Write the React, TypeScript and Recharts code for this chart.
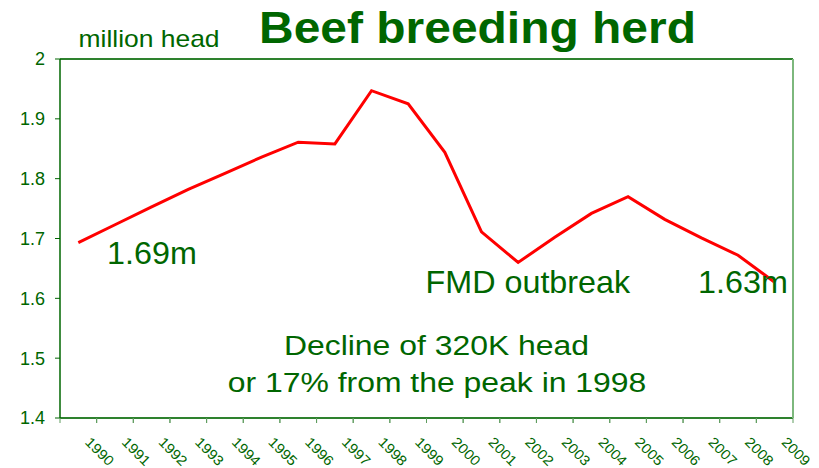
import React from 'react';
import { LineChart, Line, XAxis, YAxis, CartesianGrid, ReferenceLine } from 'recharts';

const years = ['1990','1991','1992','1993','1994','1995','1996','1997','1998','1999','2000','2001','2002','2003','2004','2005','2006','2007','2008','2009'];
const herd = [1.693, 1.723, 1.753, 1.782, 1.809, 1.836, 1.861, 1.858, 1.947, 1.925, 1.844, 1.711, 1.66, 1.702, 1.742, 1.77, 1.732, 1.701, 1.672, 1.627];
const yTicks = [1.4, 1.5, 1.6, 1.7, 1.8, 1.9, 2];

const title = 'Beef breeding herd';
const unitLabel = 'million head';
const startLabel = '1.69m';
const endLabel = '1.63m';
const eventLabel = 'FMD outbreak';
const noteLine1 = 'Decline of 320K head';
const noteLine2 = 'or 17% from the peak in 1998';

const data = years.map((y, i) => ({ year: y, herd: herd[i] }));

const W = 819;
const H = 468;
const LEFT = 60;
const RIGHT_W = 26;
const TOP = 59;
const XAXIS_H = 50;
const PLOT_BOTTOM = H - XAXIS_H;
const BW = (W - LEFT - RIGHT_W) / years.length;

const GREEN = '#006600';
const FONT = '"Liberation Sans", Arial, sans-serif';

const XTick = (props: any) => {
  const { x, payload } = props;
  const cx = payload && payload.coordinate !== undefined ? payload.coordinate : x;
  return (
    <g>
      <line x1={cx - BW / 2} x2={cx - BW / 2} y1={PLOT_BOTTOM} y2={PLOT_BOTTOM + 5} stroke="#5f9c5f" strokeWidth={1} />
      <line x1={cx + BW / 2} x2={cx + BW / 2} y1={PLOT_BOTTOM} y2={PLOT_BOTTOM + 5} stroke="#5f9c5f" strokeWidth={1} />
      <text
        x={0}
        y={0}
        transform={`translate(${cx + 6},${PLOT_BOTTOM + 25}) rotate(45) scale(1.08,1)`}
        textAnchor="start"
        fill={GREEN}
        fontSize={14}
        fontFamily={FONT}
      >
        {payload.value}
      </text>
    </g>
  );
};

const SText = ({ x, y, sx, size, anchor = 'start', bold = false, children }: any) => (
  <text
    x={0}
    y={0}
    transform={`translate(${x},${y}) scale(${sx},1)`}
    textAnchor={anchor}
    fontSize={size}
    fontWeight={bold ? 'bold' : 'normal'}
    fontFamily={FONT}
    fill={GREEN}
  >
    {children}
  </text>
);

export default function App() {
  return (
    <div style={{ position: 'absolute', left: 0, top: 0, width: W, height: H, background: '#ffffff' }}>
      <LineChart width={W} height={H} data={data} margin={{ top: TOP, right: 0, bottom: 0, left: 0 }}>
        <CartesianGrid horizontal={true} vertical={false} stroke="#72aa72" strokeWidth={1} />
        <XAxis
          dataKey="year"
          scale="band"
          height={XAXIS_H}
          axisLine={{ stroke: GREEN, strokeWidth: 1.5 }}
          tickLine={false}
          tick={<XTick />}
          interval={0}
        />
        <YAxis
          yAxisId="left"
          domain={[1.4, 2]}
          ticks={yTicks}
          width={LEFT}
          tickSize={5}
          tickMargin={10}
          tickFormatter={(v: number) => String(Number(v.toFixed(1)))}
          axisLine={{ stroke: GREEN, strokeWidth: 1.5 }}
          tickLine={{ stroke: GREEN }}
          tick={{ fill: GREEN, fontSize: 18, fontFamily: FONT }}
        />
        <YAxis
          yAxisId="right"
          orientation="right"
          domain={[1.4, 2]}
          width={RIGHT_W}
          tick={false}
          tickLine={false}
          axisLine={{ stroke: '#7db87d', strokeWidth: 2 }}
        />
        <ReferenceLine yAxisId="left" y={2} stroke={GREEN} strokeWidth={1.5} />
        <Line
          yAxisId="left"
          type="linear"
          dataKey="herd"
          stroke="#ff0000"
          strokeWidth={3}
          dot={false}
          isAnimationActive={false}
        />
      </LineChart>
      <svg width={W} height={H} style={{ position: 'absolute', left: 0, top: 0, pointerEvents: 'none' }}>
        <SText x={259} y={43} sx={1.09} size={44} bold>{title}</SText>
        <SText x={78.5} y={46.5} sx={1.15} size={23}>{unitLabel}</SText>
        <SText x={107} y={264} sx={1.06} size={30.5}>{startLabel}</SText>
        <SText x={425.5} y={293.3} sx={1.06} size={30.5}>{eventLabel}</SText>
        <SText x={698} y={293.3} sx={1.06} size={30.5}>{endLabel}</SText>
        <SText x={436.5} y={355} sx={1.14} size={28} anchor="middle">{noteLine1}</SText>
        <SText x={437} y={391.5} sx={1.14} size={28} anchor="middle">{noteLine2}</SText>
      </svg>
    </div>
  );
}
